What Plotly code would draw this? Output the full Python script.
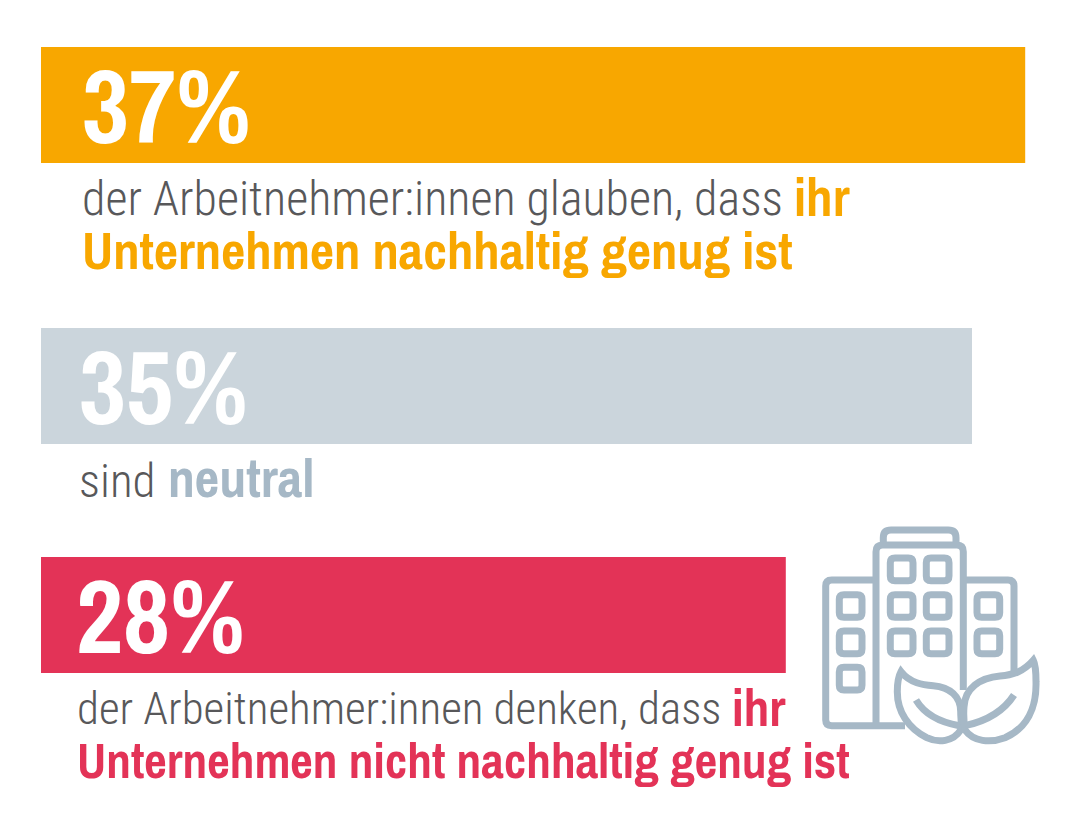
import plotly.graph_objects as go

W, H = 1080, 822
categories = ["Nachhaltig genug", "Neutral", "Nicht nachhaltig genug"]
values = [37, 35, 28]
bar_colors = ["#F8A700", "#CBD5DC", "#E33357"]
row_positions = [105, 386, 615]
ICON = "#A6B8C6"
GREY = "#58585A"
ORANGE, SOFT, RED = "#F8A700", "#A6B8C6", "#E33357"

PX_PER_PCT = 26.6
LEFT = 41
LIGHT = "Roboto Condensed, Liberation Sans, sans-serif"
BOLD = "Archivo Narrow, Roboto Condensed, Liberation Sans, sans-serif"

big_labels = [(81, 140), (78, 421), (75, 650)]
# x, baseline, text, colour, bold?, size
text_runs = [
    (81, 216, "der Arbeitnehmer:innen glauben, dass", GREY, False, 48),
    (793, 216, "ihr", ORANGE, True, 53),
    (81, 268, "Unternehmen nachhaltig genug ist", ORANGE, True, 52.7),
    (78, 497, "sind", GREY, False, 47),
    (167, 497, "neutral", SOFT, True, 53.6),
    (76, 725, "der Arbeitnehmer:innen denken, dass", GREY, False, 45),
    (731, 725, "ihr", RED, True, 51),
    (76, 777, "Unternehmen nicht nachhaltig genug ist", RED, True, 49.3),
]

fig = go.Figure(go.Bar(
    x=values, y=row_positions, width=116, orientation="h",
    marker=dict(color=bar_colors, line_width=0),
    customdata=categories, hovertemplate="%{customdata}: %{x}%<extra></extra>",
))


def label(px, base, text, size, color, bold):
    k = 0.345 if bold else 0.25
    return dict(
        xref="paper", yref="paper", x=px / W, y=1 - (base + k * size) / H,
        xanchor="left", yanchor="bottom", text=text, showarrow=False, borderpad=0,
        align="left",
        font=dict(family=BOLD if bold else LIGHT, size=size, color=color, weight=700 if bold else 300),
    )


annotations = [label(px, base, f"{v}%", 103, "white", True) for (px, base), v in zip(big_labels, values)]
annotations += [label(px, base, t, size, c, b) for px, base, t, c, b, size in text_runs]


def P(x, y):
    return f"{810 + x / 3:.1f},{515 + y / 3:.1f}"


def to_path(spec):
    out = []
    for tok in spec.split():
        if "," in tok:
            a, b = tok.split(",")
            out.append(P(float(a), float(b)))
        else:
            out.append(tok)
    return " ".join(out)


def rrect(x0, y0, x1, y1, r):
    return (f"M {x0 + r},{y0} L {x1 - r},{y0} Q {x1},{y0} {x1},{y0 + r} L {x1},{y1 - r} Q {x1},{y1} {x1 - r},{y1} "
            f"L {x0 + r},{y1} Q {x0},{y1} {x0},{y1 - r} L {x0},{y0 + r} Q {x0},{y0} {x0 + r},{y0} Z")


icon_paths = [
    "M 220,85 L 220,68 Q 220,45 243,45 L 415,45 Q 438,45 438,68 L 438,85",
    "M 198,630 L 198,110 Q 198,90 218,90 L 440,90 Q 460,90 460,110 L 460,525",
    "M 198,195 L 65,195 Q 47,195 47,213 L 47,615 Q 47,632 65,632 L 285,632",
    "M 460,195 L 594,195 Q 612,195 612,213 L 612,470",
]
for cx in (275, 383):
    for cy in (163, 273, 382):
        icon_paths.append(rrect(cx - 34, cy - 34, cx + 34, cy + 34, 14))
for cx, cy in [(122, 273), (122, 382), (122, 491), (535, 273), (535, 382)]:
    icon_paths.append(rrect(cx - 34, cy - 34, cx + 34, cy + 34, 14))

leaf_paths = [
    "M 273,470 C 300,505 340,510 370,512 C 420,516 452,545 452,590 C 452,610 456,630 452,645 "
    "C 430,680 385,685 350,668 C 295,640 262,590 262,530 C 262,505 265,485 273,470 Z",
    "M 670,436 C 640,470 610,480 570,483 C 510,488 465,520 462,575 C 460,600 462,625 465,645 "
    "C 490,680 540,685 585,668 C 650,640 680,580 678,500 C 678,475 677,450 670,436 Z",
]
vein_paths = [
    "M 318,555 C 345,600 390,622 448,632",
    "M 612,540 C 580,590 530,618 465,632",
]

shapes = []
for p in icon_paths:
    shapes.append(dict(type="path", xref="x2", yref="y2", path=to_path(p),
                       line=dict(color=ICON, width=7), fillcolor="rgba(0,0,0,0)"))
for p in leaf_paths:
    shapes.append(dict(type="path", xref="x2", yref="y2", path=to_path(p),
                       line=dict(color=ICON, width=7), fillcolor="white"))
for p in vein_paths:
    shapes.append(dict(type="path", xref="x2", yref="y2", path=to_path(p),
                       line=dict(color=ICON, width=7), fillcolor="rgba(0,0,0,0)"))

hidden = dict(visible=False, showgrid=False, zeroline=False, fixedrange=True)
fig.update_layout(
    width=W, height=H, margin=dict(l=0, r=0, t=0, b=0),
    autosize=False, showlegend=False, paper_bgcolor="white", plot_bgcolor="white",
    xaxis=dict(range=[-LEFT / PX_PER_PCT, (W - LEFT) / PX_PER_PCT], domain=[0, 1], **hidden),
    yaxis=dict(range=[H, 0], domain=[0, 1], **hidden),
    xaxis2=dict(range=[0, W], overlaying="x", anchor="y2", **hidden),
    yaxis2=dict(range=[H, 0], overlaying="y", anchor="x2", **hidden),
    annotations=annotations, shapes=shapes,
)
fig.write_html("out.html", config={"displayModeBar": False},
               post_script="document.body.style.margin='0';document.documentElement.style.overflow='hidden';")
